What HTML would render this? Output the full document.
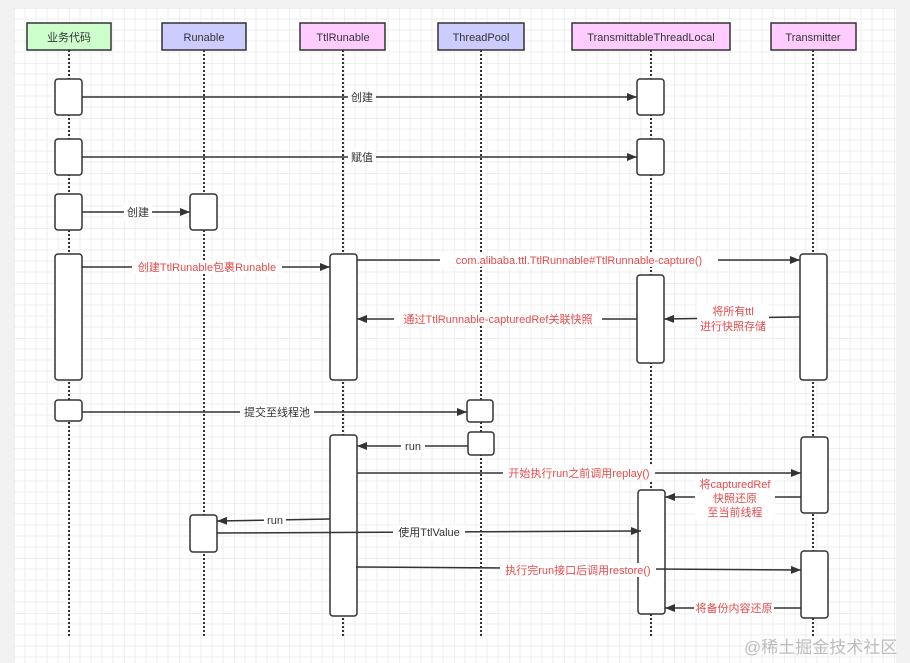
<!DOCTYPE html>
<html><head><meta charset="utf-8"><style>
html,body{margin:0;padding:0;background:#f2f2f2;}
svg{display:block;}
text{font-family:"Liberation Sans","Noto Sans CJK SC",sans-serif;font-size:11px;}
text.wm{font-size:17px;fill:#bdbdbd;}
</style></head><body>
<svg width="910" height="663" viewBox="0 0 910 663" xmlns="http://www.w3.org/2000/svg">
<defs>
<pattern id="g" x="14" y="8" width="55" height="55" patternUnits="userSpaceOnUse">
<rect width="55" height="55" fill="#fff"/>
<path d="M11 0V55M22 0V55M33 0V55M44 0V55M0 11H55M0 22H55M0 33H55M0 44H55" stroke="#efefef" stroke-width="1"/>
<path d="M0 0V55M0 0H55" stroke="#e2e2e2" stroke-width="1"/>
</pattern>
<marker id="a" markerWidth="10" markerHeight="8" refX="10" refY="4" orient="auto" markerUnits="userSpaceOnUse"><path d="M0 0L10 4L0 8Z" fill="#333"/></marker>
</defs>
<rect x="14" y="8" width="882" height="655" fill="url(#g)"/>
<g stroke="#333" stroke-width="2" stroke-dasharray="2,2">
<line x1="69" y1="50" x2="69" y2="638"/><line x1="204" y1="50" x2="204" y2="638"/>
<line x1="343" y1="50" x2="343" y2="638"/><line x1="481" y1="50" x2="481" y2="638"/>
<line x1="651" y1="50" x2="651" y2="638"/><line x1="813" y1="50" x2="813" y2="638"/>
</g>
<g stroke="#333" stroke-width="1.5">
<rect x="27" y="23" width="84" height="27" fill="#ccffcc"/>
<rect x="162" y="23" width="84" height="27" fill="#ccccff"/>
<rect x="300" y="23" width="85" height="27" fill="#ffccff"/>
<rect x="438" y="23" width="86" height="27" fill="#ccccff"/>
<rect x="572" y="23" width="158" height="27" fill="#ffccff"/>
<rect x="771" y="23" width="85" height="27" fill="#ffccff"/>
</g>
<g text-anchor="middle" fill="#333">
<text x="69" y="41">业务代码</text><text x="204" y="41">Runable</text><text x="343" y="41">TtlRunable</text>
<text x="481" y="41">ThreadPool</text><text x="651" y="41">TransmittableThreadLocal</text><text x="813" y="41">Transmitter</text>
</g>
<g fill="#fff" stroke="#333" stroke-width="1.5">
<rect x="55" y="79" width="27" height="36" rx="3"/><rect x="55" y="139" width="27" height="36" rx="3"/>
<rect x="55" y="194" width="27" height="36" rx="3"/><rect x="55" y="254" width="27" height="126" rx="3"/>
<rect x="55" y="400" width="27" height="21" rx="3"/>
<rect x="190" y="194" width="27" height="36" rx="3"/><rect x="190" y="515" width="27" height="37" rx="3"/>
<rect x="330" y="254" width="27" height="126" rx="3"/><rect x="330" y="435" width="27" height="181" rx="3"/>
<rect x="467" y="400" width="26" height="22" rx="3"/><rect x="468" y="432" width="26" height="23" rx="3"/>
<rect x="637" y="79" width="27" height="36" rx="3"/><rect x="637" y="139" width="27" height="36" rx="3"/>
<rect x="637" y="275" width="27" height="88" rx="3"/><rect x="638" y="490" width="27" height="124" rx="3"/>
<rect x="800" y="254" width="27" height="126" rx="3"/><rect x="801" y="437" width="27" height="76" rx="3"/>
<rect x="801" y="551" width="27" height="67" rx="3"/>
</g>
<g stroke="#333" stroke-width="1.5" marker-end="url(#a)">
<line x1="82" y1="97" x2="637" y2="97"/><line x1="82" y1="157" x2="637" y2="157"/>
<line x1="82" y1="212" x2="190" y2="212"/><line x1="82" y1="267" x2="330" y2="267"/>
<line x1="357" y1="260" x2="800" y2="260"/><line x1="637" y1="319" x2="357" y2="319"/>
<line x1="800" y1="317" x2="664" y2="319"/>
<line x1="82" y1="412" x2="467" y2="412"/><line x1="468" y1="446" x2="357" y2="446"/>
<line x1="357" y1="473" x2="801" y2="473"/><line x1="801" y1="497" x2="665" y2="497"/>
<line x1="330" y1="519" x2="217" y2="521"/><line x1="217" y1="533" x2="641" y2="531"/>
<line x1="356" y1="567" x2="801" y2="570"/><line x1="801" y1="608" x2="665" y2="608"/>
</g>
<g text-anchor="middle">
<g fill="#333">
<rect x="348" y="90" width="28" height="14" fill="#fff"/><text x="362" y="101">创建</text>
<rect x="348" y="150" width="28" height="14" fill="#fff"/><text x="362" y="161">赋值</text>
<rect x="124" y="205" width="28" height="14" fill="#fff"/><text x="138" y="216">创建</text>
<rect x="240" y="405" width="74" height="14" fill="#fff"/><text x="277" y="416">提交至线程池</text>
<rect x="401" y="439" width="24" height="14" fill="#fff"/><text x="413" y="450">run</text>
<rect x="264" y="513" width="22" height="14" fill="#fff"/><text x="275" y="524">run</text>
<rect x="393" y="525" width="72" height="14" fill="#fff"/><text x="429" y="536">使用TtlValue</text>
</g>
<g fill="#e84a4a">
<rect x="132" y="260" width="150" height="14" fill="#fff"/><text x="207" y="271">创建TtlRunable包裹Runable</text>
<rect x="440" y="253" width="278" height="14" fill="#fff"/><text x="579" y="264">com.alibaba.ttl.TtlRunnable#TtlRunnable-capture()</text>
<rect x="394" y="312" width="208" height="14" fill="#fff"/><text x="498" y="323">通过TtlRunnable-capturedRef关联快照</text>
<rect x="697" y="303" width="72" height="30" fill="#fff"/><text x="733" y="315">将所有ttl</text><text x="733" y="330">进行快照存储</text>
<rect x="503" y="466" width="152" height="14" fill="#fff"/><text x="579" y="477">开始执行run之前调用replay()</text>
<rect x="695" y="477" width="80" height="42" fill="#fff"/><text x="735" y="488">将capturedRef</text><text x="735" y="502">快照还原</text><text x="735" y="516">至当前线程</text>
<rect x="500" y="563" width="156" height="14" fill="#fff"/><text x="578" y="574">执行完run接口后调用restore()</text>
<rect x="694" y="601" width="80" height="14" fill="#fff"/><text x="734" y="612">将备份内容还原</text>
</g>
</g>
<text class="wm" x="744" y="653">@稀土掘金技术社区</text>
</svg>
</body></html>
